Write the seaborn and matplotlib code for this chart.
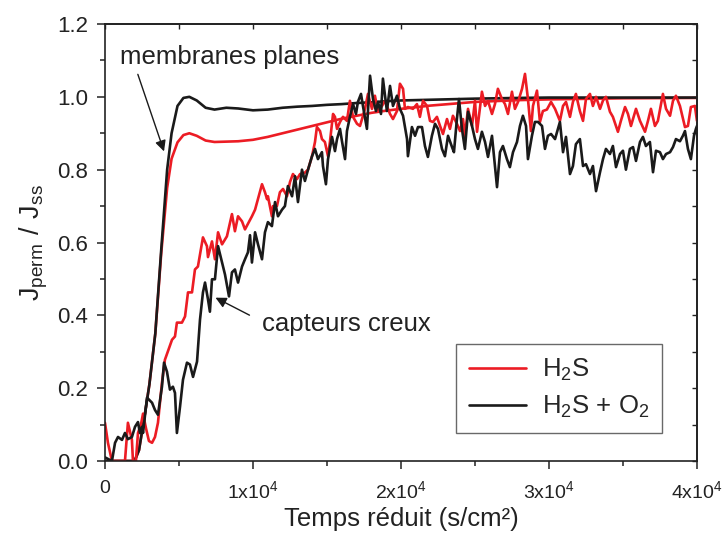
import numpy as np
import pandas as pd
import matplotlib
matplotlib.use("Agg")
import matplotlib.pyplot as plt
import seaborn as sns

# --- flat membranes (smooth responses) ---
flat_x = [0, 1000, 2000, 2300, 2700, 3000, 3400, 3800, 4200, 4500, 4900, 5300, 5700,
          6200, 6800, 7400, 8200, 9000, 10000, 11000, 12000, 13000, 14000, 15000,
          16000, 17000, 18000, 19000, 20000, 22000, 25000, 28000, 30000, 35000, 40000]
flat_h2s = [0.0, 0.0, 0.0, 0.03, 0.13, 0.21, 0.35, 0.57, 0.75, 0.83, 0.875, 0.895, 0.9,
            0.893, 0.88, 0.876, 0.877, 0.878, 0.882, 0.89, 0.9, 0.91, 0.92, 0.93,
            0.94, 0.948, 0.956, 0.962, 0.967, 0.976, 0.986, 0.991, 0.993, 0.996, 0.997]
flat_h2s_o2 = [0.0, 0.0, 0.0, 0.03, 0.13, 0.21, 0.35, 0.58, 0.8, 0.9, 0.975, 0.997, 1.0,
               0.99, 0.97, 0.965, 0.97, 0.968, 0.963, 0.965, 0.97, 0.973, 0.975, 0.978,
               0.98, 0.983, 0.985, 0.988, 0.99, 0.992, 0.995, 0.997, 0.998, 0.998, 0.998]

# --- hollow sensors (noisy responses), H2S ---
hollow_h2s_x = [0, 200, 470, 1010, 1350, 1550, 1820, 1890, 2090, 2230, 2430, 2570, 2770,
                2970, 3180, 3380, 3580, 3850, 4050, 4530, 4730, 4860, 5200, 5410, 5610,
                5880, 6080, 6280, 6620, 6890, 6960, 7230, 7430, 7640, 7910, 8240, 8580,
                8780, 8990, 9260, 9460, 9930, 10140, 10610, 10810, 10950, 11010, 11280,
                11350, 11620, 11820, 12030, 12300, 12500, 12700, 12970, 13180, 13450,
                13720, 13990, 14190, 14320, 14530, 14660, 14860, 15070, 15200, 15410,
                15540, 15680, 15880, 16080, 16350, 16550, 16760, 17030, 17230, 17570,
                17770, 18040, 18240, 18450, 18720, 18920, 19260, 19460, 19730, 19930,
                20140, 20270, 20470, 20810, 21080, 21280, 21490, 21760, 21960, 22160,
                22430, 22640, 22840, 23110, 23310, 23510, 23780, 23990, 24190, 24320,
                24530, 24800, 25000, 25140, 25470, 25680, 25880, 26150, 26350, 26550,
                26820, 27030, 27230, 27500, 27700, 27910, 28180, 28380, 28580, 28780,
                28920, 29190, 29390, 29590, 29860, 30140, 30410, 30740, 30950, 31150,
                31420, 31620, 31820, 32090, 32300, 32500, 32770, 32970, 33180, 33450,
                33650, 33850, 34120, 34320, 34660, 34860, 35140, 35340, 35540, 35880,
                36150, 36490, 36690, 36890, 37160, 37360, 37700, 37910, 38180, 38380,
                38580, 38850, 39190, 39390, 39590, 39860, 40000]
hollow_h2s = [0.105, 0.05, 0.0, 0.0, 0.0, 0.105, 0.058, 0.0, 0.0, 0.077, 0.1, 0.13, 0.09,
              0.055, 0.05, 0.066, 0.105, 0.215, 0.278, 0.333, 0.342, 0.38, 0.38, 0.397,
              0.463, 0.463, 0.526, 0.534, 0.614, 0.59, 0.56, 0.603, 0.554, 0.628, 0.595,
              0.617, 0.678, 0.631, 0.672, 0.658, 0.636, 0.672, 0.69, 0.76, 0.738, 0.719,
              0.727, 0.672, 0.70, 0.70, 0.738, 0.747, 0.727, 0.766, 0.788, 0.774, 0.788,
              0.79, 0.80, 0.837, 0.876, 0.917, 0.906, 0.884, 0.876, 0.837, 0.876, 0.953,
              0.945, 0.912, 0.931, 0.945, 0.934, 0.989, 0.945, 0.926, 0.92, 0.967, 1.008,
              0.967, 1.003, 0.959, 0.975, 0.989, 0.953, 0.939, 0.961, 1.036, 1.022, 0.967,
              0.972, 0.967, 0.98, 0.945, 0.989, 0.975, 0.934, 0.931, 0.945, 0.92, 0.898,
              0.939, 0.912, 0.948, 0.926, 0.906, 0.939, 0.893, 0.967, 0.92, 0.989, 0.904,
              1.014, 0.975, 0.989, 0.953, 0.98, 1.022, 0.994, 0.98, 0.953, 1.014, 0.967,
              0.986, 1.022, 1.063, 0.994, 0.906, 0.975, 1.017, 0.931, 0.961, 0.965, 0.986,
              0.967, 0.934, 0.975, 0.986, 0.945, 0.986, 1.008, 0.961, 0.934, 0.994, 1.008,
              0.975, 1.0, 0.967, 0.99, 1.0, 0.959, 0.945, 0.904, 0.934, 0.972, 0.953, 0.92,
              0.967, 0.934, 0.904, 0.934, 0.967, 0.92, 0.934, 1.008, 0.967, 0.948, 0.989,
              1.003, 0.975, 0.917, 0.92, 0.972, 0.975, 0.934]

# --- hollow sensors (noisy responses), H2S + O2 ---
hollow_o2_x = [0, 470, 680, 880, 1150, 1350, 1550, 1820, 2030, 2230, 2360, 2500, 2570,
               2840, 3180, 3380, 3580, 3850, 3990, 4190, 4390, 4590, 4730, 4860, 5070,
               5270, 5540, 5740, 5950, 6220, 6420, 6620, 6760, 6960, 7090, 7230, 7430,
               7640, 7910, 8110, 8380, 8580, 8780, 8990, 9260, 9460, 9660, 9800, 9930,
               10140, 10340, 10610, 10810, 11010, 11280, 11490, 11690, 11960, 12160,
               12360, 12640, 12840, 13040, 13310, 13510, 13720, 13990, 14190, 14390,
               14660, 14730, 14930, 15070, 15340, 15540, 15680, 15880, 16010, 16220,
               16350, 16550, 16760, 16960, 17090, 17300, 17430, 17700, 17910, 18110,
               18310, 18450, 18650, 18780, 19050, 19260, 19460, 19730, 19930, 20140,
               20410, 20470, 20740, 20950, 21150, 21420, 21620, 21820, 22090, 22300,
               22500, 22770, 22970, 23180, 23450, 23580, 23780, 23920, 24120, 24320,
               24530, 24800, 25000, 25200, 25470, 25680, 25880, 26150, 26280, 26490,
               26690, 26890, 27160, 27360, 27570, 27840, 28040, 28240, 28450, 28580,
               28850, 29050, 29260, 29530, 29730, 29930, 30140, 30410, 30740, 30950,
               31150, 31420, 31620, 31820, 32090, 32300, 32500, 32770, 32970, 33180,
               33450, 33650, 33850, 34120, 34320, 34530, 34800, 35000, 35200, 35470,
               35680, 35880, 36150, 36350, 36550, 36820, 37030, 37230, 37500, 37700,
               37910, 38180, 38380, 38580, 38850, 39050, 39190, 39390, 39590, 39800,
               39930, 40000]
hollow_o2 = [0.01, 0.0, 0.05, 0.066, 0.058, 0.077, 0.06, 0.066, 0.094, 0.107, 0.077, 0.094,
             0.077, 0.174, 0.16, 0.14, 0.127, 0.204, 0.27, 0.245, 0.196, 0.204, 0.187,
             0.077, 0.149, 0.223, 0.27, 0.265, 0.231, 0.273, 0.388, 0.463, 0.49, 0.444,
             0.41, 0.499, 0.499, 0.59, 0.545, 0.512, 0.452, 0.518, 0.526, 0.49, 0.534,
             0.554, 0.573, 0.62, 0.545, 0.628, 0.595, 0.554, 0.628, 0.656, 0.645, 0.711,
             0.672, 0.69, 0.70, 0.755, 0.727, 0.782, 0.711, 0.80, 0.769, 0.80, 0.837,
             0.857, 0.829, 0.848, 0.81, 0.76, 0.829, 0.89, 0.851, 0.884, 0.912, 0.879,
             0.829, 0.906, 0.945, 0.98, 0.953, 0.986, 1.008, 0.975, 0.912, 1.058, 0.994,
             0.961, 0.986, 0.953, 1.05, 0.961, 1.03, 0.975, 1.003, 0.967, 0.948, 0.884,
             0.837, 0.917, 0.893, 0.917, 0.917, 0.865, 0.835, 0.893, 0.926, 0.912, 0.857,
             0.837, 0.893, 0.862, 0.848, 0.939, 0.994, 0.912, 0.857, 0.959, 0.92, 0.884,
             0.857, 0.904, 0.876, 0.835, 0.893, 0.84, 0.752, 0.848, 0.865, 0.829, 0.807,
             0.848, 0.876, 0.92, 0.948, 0.92, 0.829, 0.893, 0.931, 0.931, 0.92, 0.857,
             0.893, 0.898, 0.884, 0.931, 0.848, 0.89, 0.788, 0.81, 0.87, 0.884, 0.81,
             0.815, 0.788, 0.81, 0.741, 0.793, 0.829, 0.857, 0.843, 0.865, 0.807, 0.843,
             0.852, 0.80, 0.857, 0.862, 0.824, 0.876, 0.89, 0.865, 0.876, 0.793, 0.852,
             0.848, 0.829, 0.843, 0.848, 0.862, 0.884, 0.878, 0.893, 0.906, 0.857, 0.829,
             0.893, 0.912, 0.92]

x_ticks = [0, 10000, 20000, 30000, 40000]
x_tick_labels = ["0", "1x10$^4$", "2x10$^4$", "3x10$^4$", "4x10$^4$"]
y_ticks = [0.0, 0.2, 0.4, 0.6, 0.8, 1.0, 1.2]
y_tick_labels = ["0.0", "0.2", "0.4", "0.6", "0.8", "1.0", "1.2"]

RED = "#ec1c24"
BLACK = "#1a1a1a"
INK = "#222222"

sns.set_theme(style="ticks")
plt.rcParams["font.family"] = ["Liberation Sans", "DejaVu Sans"]
plt.rcParams["mathtext.default"] = "regular"
plt.rcParams["axes.edgecolor"] = INK

fig = plt.figure(figsize=(7.26, 5.38), dpi=100)
ax = fig.add_axes([0.1446, 0.1431, 0.8154, 0.8123])

def frame(x, y):
    return pd.DataFrame({"t": x, "j": y})

common = dict(ax=ax, estimator=None, sort=False, linewidth=1.9, legend=False)
sns.lineplot(data=frame(flat_x, flat_h2s), x="t", y="j", color=RED, **common)
sns.lineplot(data=frame(flat_x, flat_h2s_o2), x="t", y="j", color=BLACK, **common)
sns.lineplot(data=frame(hollow_h2s_x, hollow_h2s), x="t", y="j", color=RED, **common)
sns.lineplot(data=frame(hollow_o2_x, hollow_o2), x="t", y="j", color=BLACK, **common)

ax.set_xlim(0, 40000)
ax.set_ylim(0, 1.2)

ax.set_xticks(x_ticks)
ax.set_xticklabels(x_tick_labels)
ax.set_xticks([5000, 15000, 25000, 35000], minor=True)
ax.set_yticks(y_ticks)
ax.set_yticklabels(y_tick_labels)
ax.tick_params(which="major", direction="out", length=6, width=1.1, colors=INK)
ax.set_yticks([0.1, 0.3, 0.5, 0.7, 0.9, 1.1], minor=True)
ax.tick_params(which="minor", direction="out", length=3.5, width=1.1, colors=INK)
ax.tick_params(axis="x", labelsize=14, pad=8)
ax.tick_params(axis="y", labelsize=16, pad=6)

for side in ["top", "bottom", "left", "right"]:
    ax.spines[side].set_visible(True)
    ax.spines[side].set_linewidth(1.2)

# inward ticks on the opposite frame sides
top = ax.secondary_xaxis("top")
top.set_xticks(x_ticks + [5000, 15000, 25000, 35000])
top.tick_params(direction="in", length=3.5, width=1.0, labeltop=False, colors=INK)
right = ax.secondary_yaxis("right")
right.set_yticks([i / 10 for i in range(13)])
right.tick_params(direction="in", length=3.5, width=1.0, labelright=False, colors=INK)

ax.set_xlabel("Temps réduit (s/cm²)", fontsize=18.5, color=INK, labelpad=3)
ax.set_ylabel(r"J$_{perm}$$\ $/$\ $J$_{ss}$", fontsize=19.5, color=INK, labelpad=5)

ax.annotate("", xy=(4050, 0.843), xytext=(2160, 1.069),
            arrowprops=dict(arrowstyle="-|>", color=BLACK, lw=1.0, mutation_scale=16))
ax.text(1010, 1.108, "membranes planes", fontsize=18.5, color=INK, va="center")
ax.annotate("", xy=(7300, 0.452), xytext=(9930, 0.397),
            arrowprops=dict(arrowstyle="-|>", color=BLACK, lw=1.0, mutation_scale=16))
ax.text(10610, 0.375, "capteurs creux", fontsize=18.5, color=INK, va="center")

handles = [plt.Line2D([], [], color=RED, lw=1.9), plt.Line2D([], [], color=BLACK, lw=1.9)]
leg = ax.legend(handles, ["H$_2$S", "H$_2$S + O$_2$"], loc="lower right",
                bbox_to_anchor=(0.963, 0.034), fontsize=18.5, frameon=True, fancybox=False,
                edgecolor="#444444", handlelength=2.25, handletextpad=0.6,
                borderpad=0.5, labelspacing=0.45, borderaxespad=0.5)
leg.get_frame().set_linewidth(1.0)

fig.savefig("out.png", dpi=100)
